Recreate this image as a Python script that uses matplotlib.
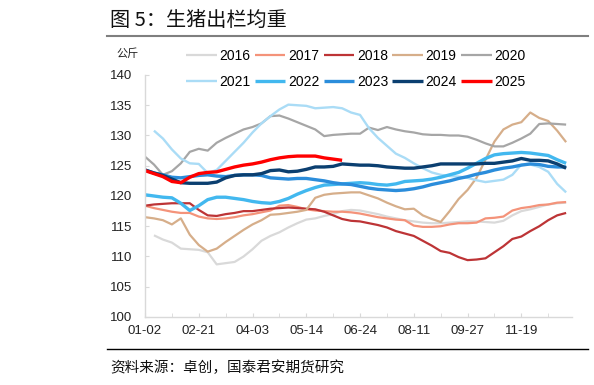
import numpy as np
import matplotlib
matplotlib.use("Agg")
import matplotlib.pyplot as plt
from matplotlib.lines import Line2D

plt.rcParams['font.family'] = ['Liberation Sans', 'Noto Sans CJK SC', 'DejaVu Sans']
CJK = ['Noto Sans CJK SC', 'DejaVu Sans']

# weekly average slaughter weight (kg), one list per year
y2016 = [np.nan, 113.5, 112.8, 112.3, 111.3, 111.2, 111.1, 110.7, 108.7, 108.9,
         109.1, 110.0, 111.2, 112.6, 113.4, 114.0, 114.8, 115.5, 116.1, 116.3,
         116.7, 117.0, 117.5, 117.7, 117.6, 117.3, 117.0, 116.6, 116.3, 116.0,
         115.8, 115.6, 115.5, 115.5, 115.6, 115.7, 115.8, 115.8, 115.7, 115.6,
         115.9, 116.8, 117.5, 117.8, 118.2, 118.6, 118.8, 118.9]
y2017 = [118.4, 118.0, 117.7, 117.4, 117.2, 117.2, 116.6, 116.3, 116.2, 116.3,
         116.5, 116.8, 117.0, 117.3, 117.6, 118.4, 118.5, 118.2, 117.8, 117.6,
         117.5, 117.4, 117.4, 117.3, 117.1, 116.8, 116.5, 116.3, 116.1, 116.0,
         115.1, 114.9, 114.9, 115.0, 115.3, 115.5, 115.5, 115.6, 116.3, 116.4,
         116.6, 117.6, 118.0, 118.2, 118.5, 118.6, 118.9, 119.0]
y2018 = [118.4, 118.6, 118.7, 118.8, 118.8, 118.8, 117.7, 116.8, 116.7, 117.0,
         117.2, 117.5, 117.5, 117.7, 117.9, 118.0, 118.1, 118.0, 117.9, 117.8,
         117.4, 116.8, 116.2, 115.9, 115.8, 115.5, 115.2, 114.8, 114.2, 113.8,
         113.4, 112.6, 111.8, 110.9, 110.6, 109.9, 109.4, 109.5, 109.7, 110.7,
         111.7, 112.9, 113.3, 114.2, 115.0, 116.0, 116.8, 117.2]
y2019 = [116.5, 116.3, 116.0, 115.3, 116.3, 113.6, 111.9, 110.8, 111.3, 112.4,
         113.4, 114.4, 115.3, 116.0, 116.9, 117.0, 117.2, 117.4, 117.7, 119.7,
         120.2, 120.4, 120.5, 120.6, 120.6, 120.1, 119.6, 118.9, 118.3, 117.8,
         117.9, 116.8, 116.2, 115.7, 117.5, 119.5, 121.0, 123.0, 126.0, 129.0,
         131.0, 131.8, 132.2, 133.8, 132.9, 132.4, 130.8, 128.9]
y2020 = [126.5, 125.2, 123.5, 124.1, 125.4, 127.3, 127.8, 127.5, 128.8, 129.6,
         130.3, 131.0, 131.4, 132.0, 133.2, 133.3, 132.8, 132.2, 131.6, 131.0,
         129.9, 130.1, 130.2, 130.3, 130.3, 131.3, 130.9, 131.4, 131.0, 130.7,
         130.5, 130.2, 130.1, 130.1, 130.0, 130.0, 129.8, 129.3, 128.7, 128.2,
         128.2, 128.8, 129.5, 130.3, 131.9, 132.0, 131.9, 131.8]
y2021 = [np.nan, 130.8, 129.5, 127.7, 126.2, 125.4, 125.3, 123.8, 124.3, 125.8,
         127.3, 128.8, 130.5, 132.0, 133.2, 134.3, 135.1, 135.0, 134.9, 134.5,
         134.6, 134.7, 134.5, 133.8, 133.4, 131.2, 129.6, 128.3, 127.0, 126.3,
         125.4, 124.6, 123.9, 123.5, 123.3, 123.2, 123.0, 122.6, 122.3, 122.5,
         122.7, 123.5, 125.2, 125.2, 124.8, 124.0, 122.0, 120.6]
y2022 = [120.2, 120.0, 119.8, 119.7, 118.8, 117.6, 118.4, 119.4, 119.8, 119.8,
         119.6, 119.4, 119.1, 118.9, 118.8, 119.1, 119.6, 120.3, 120.9, 121.4,
         121.8, 121.9, 122.0, 122.1, 122.2, 122.1, 121.9, 121.8, 122.0, 122.4,
         122.5, 122.6, 122.8, 123.1, 123.5, 123.9, 124.6, 125.4, 126.2, 126.8,
         127.0, 127.1, 127.2, 127.1, 126.9, 126.7, 126.0, 125.4]
y2023 = [124.3, 123.8, 123.5, 123.1, 123.0, 123.2, 123.4, 123.5, 123.3, 123.2,
         123.4, 123.5, 123.5, 123.4, 123.0, 122.9, 122.8, 122.9, 122.9, 122.7,
         122.5, 122.2, 122.0, 121.9, 121.6, 121.3, 121.1, 121.0, 120.9, 121.0,
         121.2, 121.5, 121.9, 122.2, 122.5, 122.9, 123.2, 123.6, 123.9, 124.3,
         124.6, 124.8, 125.1, 125.3, 125.2, 124.9, 124.8, 124.8]
y2024 = [124.3, 123.8, 123.4, 122.8, 122.2, 122.1, 122.1, 122.1, 122.3, 123.0,
         123.4, 123.5, 123.5, 123.7, 124.2, 124.3, 124.0, 124.1, 124.4, 124.8,
         124.8, 124.9, 125.3, 125.2, 125.1, 125.1, 125.0, 124.8, 124.7, 124.6,
         124.6, 124.8, 125.0, 125.3, 125.3, 125.3, 125.3, 125.3, 125.4, 125.4,
         125.6, 125.8, 126.2, 125.9, 125.9, 125.8, 125.3, 124.6]
y2025 = [124.2, 123.7, 123.2, 122.4, 122.2, 123.1, 123.7, 123.9, 124.0, 124.4,
         124.8, 125.1, 125.3, 125.6, 126.0, 126.3, 126.5, 126.6, 126.6, 126.6,
         126.3, 126.1, 125.9]

years = ['2016', '2017', '2018', '2019', '2020', '2021', '2022', '2023', '2024', '2025']
series = [y2016, y2017, y2018, y2019, y2020, y2021, y2022, y2023, y2024, y2025]
colors = ['#d9d9d9', '#f4937a', '#bd3436', '#d6ae8a', '#a6a6a6',
          '#aadcf6', '#42b8ef', '#2b8ddb', '#0b3f70', '#ff0000']
widths = [1.6, 1.6, 1.6, 1.6, 1.6, 1.7, 2.4, 2.4, 2.4, 2.4]

tick_pos = [0, 6, 12, 18, 24, 30, 36, 42]
tick_labels = ['01-02', '02-21', '04-03', '05-14', '06-24', '08-11', '09-27', '11-19']


def main():
    fig = plt.figure(figsize=(5.94, 3.85), dpi=100)
    ax = fig.add_axes([145 / 594, 1 - 317 / 385, 426.5 / 594, 242 / 385])

    handles = []
    for name, vals, c, w in zip(years, series, colors, widths):
        x = np.arange(len(vals))
        ln, = ax.plot(x, vals, color=c, lw=w, solid_capstyle='butt')
        handles.append(ln)

    ax.set_xlim(0, 47.6)
    ax.set_ylim(100, 140)
    ax.set_yticks(np.arange(100, 141, 5))
    ax.set_xticks(np.arange(0, 46, 3), minor=True)
    ax.set_xticks(tick_pos)
    ax.set_xticklabels(tick_labels)

    for s in ['top', 'right']:
        ax.spines[s].set_visible(False)
    for s in ['left', 'bottom']:
        ax.spines[s].set_color('#d9d9d9')
        ax.spines[s].set_linewidth(1.0)
    ax.tick_params(axis='both', which='both', direction='in', length=3,
                   color='#d9d9d9', labelsize=9.5, labelcolor='#222222')
    ax.tick_params(axis='y', pad=9)
    ax.tick_params(axis='x', pad=6)

    # legend fills column by column, so interleave the two rows
    order = [0, 5, 1, 6, 2, 7, 3, 8, 4, 9]
    fig.legend([handles[i] for i in order], [years[i] for i in order],
               ncol=5, loc='upper left',
               bbox_to_anchor=(186 / 594, 1 - 48.5 / 385), frameon=False,
               borderpad=0, borderaxespad=0, handlelength=2.2,
               handletextpad=0.2, columnspacing=0.3, labelspacing=0.9,
               fontsize=10)

    fig.text(110 / 594, 1 - 20 / 385, '图 5：生猪出栏均重', fontsize=14.5,
             family=CJK, va='center', ha='left', color='#111111')
    fig.add_artist(Line2D([107 / 594, 588 / 594], [1 - 35.7 / 385] * 2,
                          color='#7f7f7f', lw=1.5))
    fig.text(116 / 594, 1 - 54 / 385, '公斤', fontsize=8, family=CJK,
             va='center', ha='left', color='#222222')
    fig.add_artist(Line2D([107 / 594, 588 / 594], [1 - 349.3 / 385] * 2,
                          color='black', lw=1.0))
    fig.text(110 / 594, 1 - 368 / 385, '资料来源：卓创，国泰君安期货研究',
             fontsize=10.5, family=CJK, va='center', ha='left', color='#111111')

    fig.savefig('out.png', dpi=100)


if __name__ == "__main__":
    main()
